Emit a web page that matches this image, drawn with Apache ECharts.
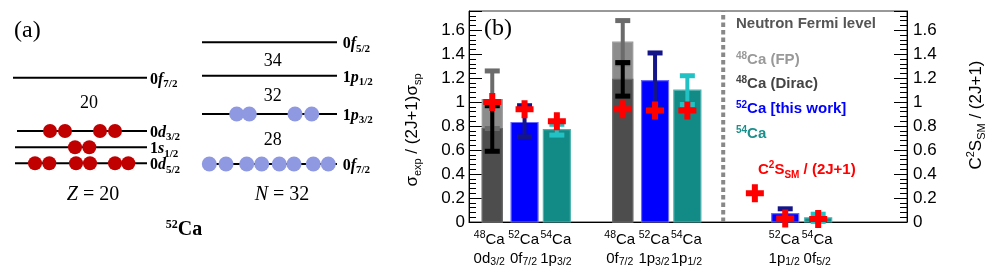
<!DOCTYPE html>
<html><head><meta charset="utf-8">
<script src="https://cdn.jsdelivr.net/npm/echarts@6/dist/echarts.min.js"></script>
<style>html,body{margin:0;padding:0;background:#fff}#c{width:997px;height:273px}</style>
</head><body><div id="c"></div>
<script>
// ================= panel (b) data =================
const barX       = [0.72, 1.72, 2.72, 4.76, 5.76, 6.76, 9.79, 10.81];
const barNucleus = ['48', '52', '54', '48', '52', '54', '52', '54'];
const barOrbital = ['0d', '0f', '1p', '0f', '1p', '1p', '1p', '0f'];
const barJ       = ['3/2', '7/2', '3/2', '7/2', '3/2', '1/2', '1/2', '5/2'];

const fpX = [0.72, 4.76];            // 48Ca (FP)
const fpVal = [1.02, 1.50];
const fpErr = [0.24, 0.18];
const diracX = [0.72, 4.76];         // 48Ca (Dirac)
const diracVal = [0.78, 1.19];
const diracErr = [0.19, 0.14];
const ca52X = [1.72, 5.76, 9.79];    // 52Ca [this work]
const ca52Val = [0.83, 1.18, 0.07];
const ca52ErrUp = [0.14, 0.23, 0.04];
const ca52ErrDn = [0.12, 0.23, 0.04];
const ca54X = [2.72, 6.76, 10.81];   // 54Ca
const ca54Val = [0.77, 1.10, 0.035];
const ca54Err = [0.045, 0.12, 0.03];
const smX = [0.72, 1.72, 2.72, 4.76, 5.76, 6.76, 8.85, 9.79, 10.81];   // C2S_SM/(2J+1)
const smVal = [1.00, 0.94, 0.84, 0.94, 0.93, 0.93, 0.24, 0.03, 0.025];
const fermiX = 7.87;
const xMax = 13.56, yMax = 1.76;
const yTickStep = 0.2;

// ================= panel (a) data (diagram units) =================
const pLevelE = [77.7, 131, 147.3, 163.3];
const pLevelName = [['0','f','7/2'], ['0','d','3/2'], ['1','s','1/2'], ['0','d','5/2']];
const pLevelStart = [13, 17, 15, 15];
const pLevelEnd = 147;
const pOcc = [[], [50, 65, 100, 115], [75, 89.3], [35, 49.3, 76, 90, 115, 128.3]];
const nLevelE = [42.3, 75.7, 114, 164];
const nLevelName = [['0','f','5/2'], ['1','p','1/2'], ['1','p','3/2'], ['0','f','7/2']];
const nLevelStart = 202, nLevelEnd = 337;
const nOcc = [[], [], [236.7, 249.3, 295, 311.7], [209.3, 226, 246.7, 261.7, 279.3, 294, 313.3, 328.3]];
const gapText = ['20', '34', '32', '28'];
const gapPos = [[89, 103], [272.7, 61.7], [272.7, 96.7], [272.7, 140]];

// ================= helpers =================
const SANS = 'Liberation Sans', SERIF = 'Liberation Serif';
const narrowW = 0.62, wideW = 0.836;

function barSeries(xs, vals, w, fill, stroke, z) {
  return {
    type: 'custom', xAxisIndex: 0, yAxisIndex: 0, z: z, silent: true,
    data: xs.map((x, i) => [x, vals[i]]),
    renderItem(params, api) {
      const x = api.value(0), v = api.value(1);
      const a = api.coord([x - w / 2, 0]), b = api.coord([x + w / 2, v]);
      return { type: 'rect', shape: { x: a[0], y: b[1], width: b[0] - a[0], height: a[1] - b[1] },
               style: { fill: fill, stroke: stroke, lineWidth: 1.2 } };
    }
  };
}
function errSeries(xs, vals, up, dn, color, lw, z) {
  return {
    type: 'custom', xAxisIndex: 0, yAxisIndex: 0, z: z, silent: true,
    data: xs.map((x, i) => [x, vals[i], up[i], dn[i]]),
    renderItem(params, api) {
      const x = api.value(0), v = api.value(1), u = api.value(2), d = api.value(3);
      const t = api.coord([x, v + u]), b = api.coord([x, v - d]);
      const cw = 15, ch = 5;
      return { type: 'group', children: [
        { type: 'rect', shape: { x: t[0] - lw / 2, y: t[1], width: lw, height: b[1] - t[1] }, style: { fill: color } },
        { type: 'rect', shape: { x: t[0] - cw / 2, y: t[1] - ch / 2, width: cw, height: ch }, style: { fill: color } },
        { type: 'rect', shape: { x: b[0] - cw / 2, y: b[1] - ch / 2, width: cw, height: ch }, style: { fill: color } }
      ] };
    }
  };
}
const supS = { fontSize: 10.5, fontFamily: SANS, verticalAlign: 'top', lineHeight: 10, fill: '#000' };
const subS = { fontSize: 10.5, fontFamily: SANS, verticalAlign: 'bottom', lineHeight: 10, fill: '#000' };
const baseS = { fontSize: 15, fontFamily: SANS, lineHeight: 19, fill: '#000' };

const xLabelSeries = {
  type: 'custom', xAxisIndex: 0, yAxisIndex: 0, z: 5, silent: true, clip: false,
  data: barX.map(x => [x, 0]),
  renderItem(params, api) {
    const i = params.dataIndex;
    const p = api.coord([api.value(0), 0]);
    return { type: 'text', x: p[0] + (barNucleus[i] === '48' ? -3 : -1), y: p[1] + 8,
      style: { text: '{sup|' + barNucleus[i] + '}{m|Ca}\n{m|' + barOrbital[i] + '}{sub|' + barJ[i] + '}',
               align: 'center', verticalAlign: 'top', fontSize: 15, fontFamily: SANS, lineHeight: 19, fill: '#000',
               rich: { sup: supS, sub: subS, m: baseS } } };
  }
};

// panel (a) helpers
const lvlBase = { fontSize: 16, fontFamily: SERIF, fontWeight: 'bold', lineHeight: 20, fill: '#000' };
const lvlRich = {
  m: lvlBase,
  it: { fontSize: 16, fontFamily: SERIF, fontWeight: 'bold', fontStyle: 'italic', lineHeight: 20, fill: '#000' },
  sub: { fontSize: 11, fontFamily: SERIF, fontWeight: 'bold', verticalAlign: 'bottom', lineHeight: 9, fill: '#000' }
};
function levelSeries(energies, names, starts, end, labelX) {
  return {
    type: 'custom', xAxisIndex: 1, yAxisIndex: 2, z: 2, silent: true, clip: false,
    data: energies.map((e, i) => [Array.isArray(starts) ? starts[i] : starts, end, e]),
    renderItem(params, api) {
      const i = params.dataIndex;
      const a = api.coord([api.value(0), api.value(2)]), b = api.coord([api.value(1), api.value(2)]);
      const lx = api.coord([labelX, api.value(2)]);
      const n = names[i];
      return { type: 'group', children: [
        { type: 'line', shape: { x1: a[0], y1: a[1], x2: b[0], y2: b[1] }, style: { stroke: '#000', lineWidth: 2 } },
        { type: 'text', x: lx[0], y: lx[1] + 2, style: { text: '{m|' + n[0] + '}{it|' + n[1] + '}{sub|' + n[2] + '}',
          align: 'left', verticalAlign: 'middle', rich: lvlRich, fontSize: 16, fontFamily: SERIF } }
      ] };
    }
  };
}
function dotData(energies, occ) {
  const out = [];
  occ.forEach((xs, i) => xs.forEach(x => out.push([x, energies[i]])));
  return out;
}
const gapSeries = {
  type: 'custom', xAxisIndex: 1, yAxisIndex: 2, z: 3, silent: true, clip: false,
  data: gapPos.map(p => p.slice()),
  renderItem(params, api) {
    const p = api.coord([api.value(0), api.value(1)]);
    return { type: 'text', x: p[0], y: p[1], style: { text: gapText[params.dataIndex], align: 'center', verticalAlign: 'middle',
      fontSize: 18, fontFamily: SERIF, fill: '#000' } };
  }
};

const crossPath = 'path://M2,0H4V2H6V4H4V6H2V4H0V2H2Z';

const option = {
  animation: false,
  backgroundColor: '#fff',
  grid: [
    { left: 469, right: 90, top: 11, bottom: 51, show: true, borderColor: '#333', borderWidth: 1, backgroundColor: 'transparent' },
    { left: 0, top: 0, width: 400, height: 273, show: false }
  ],
  xAxis: [
    { type: 'value', gridIndex: 0, min: 0, max: xMax, axisLine: { show: true, onZero: false, lineStyle: { color: '#000', width: 1 } },
      axisTick: { show: false }, axisLabel: { show: false }, splitLine: { show: false } },
    { type: 'value', gridIndex: 1, min: 0, max: 400, show: false, splitLine: { show: false } }
  ],
  yAxis: [
    { type: 'value', gridIndex: 0, position: 'left', min: 0, max: yMax, interval: yTickStep,
      axisLine: { show: true, lineStyle: { color: '#000', width: 1 } },
      axisTick: { show: true, inside: true, length: 13, lineStyle: { color: '#000' } },
      minorTick: { show: true, splitNumber: 5, length: 7, lineStyle: { color: '#000' } },
      axisLabel: { show: true, margin: 4, fontSize: 17, fontFamily: SANS, color: '#000', showMaxLabel: false },
      splitLine: { show: false } },
    { type: 'value', gridIndex: 0, position: 'right', min: 0, max: yMax, interval: yTickStep,
      axisLine: { show: true, lineStyle: { color: '#000', width: 1 } },
      axisTick: { show: true, inside: true, length: 13, lineStyle: { color: '#000' } },
      minorTick: { show: true, splitNumber: 5, length: 7, lineStyle: { color: '#000' } },
      axisLabel: { show: true, margin: 6, fontSize: 17, fontFamily: SANS, color: '#000', showMaxLabel: false },
      splitLine: { show: false } },
    { type: 'value', gridIndex: 1, min: 0, max: 273, inverse: true, show: false, splitLine: { show: false } }
  ],
  series: [
    { type: 'line', xAxisIndex: 0, yAxisIndex: 0, z: 1, silent: true, symbol: 'none',
      data: [[fermiX, 0], [fermiX, yMax]], lineStyle: { color: '#888', width: 4, type: [4.5, 3] } },
    barSeries(fpX, fpVal, narrowW, '#8c8c8c', '#9a9a9a', 2),
    barSeries(diracX, diracVal, narrowW, '#4d4d4d', '#666', 3),
    barSeries(ca52X, ca52Val, wideW, '#0000ff', '#6a6aff', 2),
    barSeries(ca54X, ca54Val, wideW, '#128a86', '#4fb3b0', 2),
    errSeries(fpX, fpVal, fpErr, fpErr, '#6b6b6b', 4, 4),
    errSeries(diracX, diracVal, diracErr, diracErr, '#000', 4, 5),
    errSeries(ca52X, ca52Val, ca52ErrUp, ca52ErrDn, '#15158a', 4, 4),
    errSeries(ca54X, ca54Val, ca54Err, ca54Err, '#22c2c4', 4, 4),
    { type: 'scatter', xAxisIndex: 0, yAxisIndex: 0, z: 8, silent: true, symbol: crossPath, symbolSize: 18,
      data: smX.map((x, i) => [x, smVal[i]]), itemStyle: { color: '#ff0000', opacity: 1 } },
    xLabelSeries,
    // panel (a)
    levelSeries(pLevelE, pLevelName, pLevelStart, pLevelEnd, 150),
    levelSeries(nLevelE, nLevelName, nLevelStart, nLevelEnd, 342.7),
    { type: 'scatter', xAxisIndex: 1, yAxisIndex: 2, z: 4, silent: true, symbolSize: 14,
      data: dotData(pLevelE, pOcc), itemStyle: { color: '#c00000', opacity: 1 } },
    { type: 'scatter', xAxisIndex: 1, yAxisIndex: 2, z: 4, silent: true, symbolSize: 15,
      data: dotData(nLevelE, nOcc), itemStyle: { color: '#8f99e2', opacity: 1 } },
    gapSeries
  ],
  graphic: [
    { type: 'text', x: 14, y: 31, style: { text: '(a)', font: '24px "Liberation Serif"', fill: '#000', verticalAlign: 'middle' } },
    { type: 'text', x: 484, y: 29, z: 20, style: { text: '(b)', font: '24px "Liberation Serif"', fill: '#000', verticalAlign: 'middle' } },
    { type: 'text', x: 93, y: 195, style: { text: '{i|Z} = 20', align: 'center', verticalAlign: 'middle', font: '20px "Liberation Serif"', fill: '#000',
      rich: { i: { fontSize: 20, fontFamily: SERIF, fontStyle: 'italic', fill: '#000' } } } },
    { type: 'text', x: 282, y: 195, style: { text: '{i|N} = 32', align: 'center', verticalAlign: 'middle', font: '20px "Liberation Serif"', fill: '#000',
      rich: { i: { fontSize: 20, fontFamily: SERIF, fontStyle: 'italic', fill: '#000' } } } },
    { type: 'text', x: 184, y: 230, style: { text: '{s|52}{m|Ca}', align: 'center', verticalAlign: 'middle',
      rich: { s: { fontSize: 12, fontFamily: SERIF, fontWeight: 'bold', verticalAlign: 'top', lineHeight: 12, fill: '#000' },
              m: { fontSize: 20, fontFamily: SERIF, fontWeight: 'bold', lineHeight: 22, fill: '#000' } } } },
    // legend texts
    { type: 'text', x: 736, y: 24, z: 20, style: { text: 'Neutron Fermi level', font: 'bold 15px "Liberation Sans"', fill: '#555', verticalAlign: 'middle' } },
    { type: 'text', x: 736, y: 60, z: 20, style: { text: '{s|48}{m|Ca (FP)}', verticalAlign: 'middle',
      rich: { s: { fontSize: 10, fontFamily: SANS, fontWeight: 'bold', verticalAlign: 'top', lineHeight: 10, fill: '#999' },
              m: { fontSize: 15, fontFamily: SANS, fontWeight: 'bold', lineHeight: 18, fill: '#999' } } } },
    { type: 'text', x: 736, y: 84, z: 20, style: { text: '{s|48}{m|Ca (Dirac)}', verticalAlign: 'middle',
      rich: { s: { fontSize: 10, fontFamily: SANS, fontWeight: 'bold', verticalAlign: 'top', lineHeight: 10, fill: '#444' },
              m: { fontSize: 15, fontFamily: SANS, fontWeight: 'bold', lineHeight: 18, fill: '#444' } } } },
    { type: 'text', x: 736, y: 109, z: 20, style: { text: '{s|52}{m|Ca [this work]}', verticalAlign: 'middle',
      rich: { s: { fontSize: 10, fontFamily: SANS, fontWeight: 'bold', verticalAlign: 'top', lineHeight: 10, fill: '#0000ff' },
              m: { fontSize: 15, fontFamily: SANS, fontWeight: 'bold', lineHeight: 18, fill: '#0000ff' } } } },
    { type: 'text', x: 736, y: 134, z: 20, style: { text: '{s|54}{m|Ca}', verticalAlign: 'middle',
      rich: { s: { fontSize: 10, fontFamily: SANS, fontWeight: 'bold', verticalAlign: 'top', lineHeight: 10, fill: '#1a8f8c' },
              m: { fontSize: 15, fontFamily: SANS, fontWeight: 'bold', lineHeight: 18, fill: '#1a8f8c' } } } },
    { type: 'text', x: 758, y: 170, z: 20, style: { text: '{m|C}{s|2}{m|S}{b|SM}{m| / (2J+1)}', verticalAlign: 'middle',
      rich: { s: { fontSize: 10, fontFamily: SANS, fontWeight: 'bold', verticalAlign: 'top', lineHeight: 10, fill: '#ff0000' },
              b: { fontSize: 10, fontFamily: SANS, fontWeight: 'bold', verticalAlign: 'bottom', lineHeight: 10, fill: '#ff0000' },
              m: { fontSize: 15, fontFamily: SANS, fontWeight: 'bold', lineHeight: 20, fill: '#ff0000' } } } },
    // axis titles
    { type: 'text', x: 412, y: 130, rotation: Math.PI / 2, style: { text: '{m|σ}{b|exp}{m| / (2J+1)σ}{b|sp}', align: 'center', verticalAlign: 'middle',
      rich: { b: { fontSize: 11, fontFamily: SANS, verticalAlign: 'bottom', lineHeight: 10, fill: '#000' },
              m: { fontSize: 17, fontFamily: SANS, lineHeight: 22, fill: '#000' } } } },
    { type: 'text', x: 976, y: 115, rotation: Math.PI / 2, style: { text: '{m|C}{s|2}{m|S}{b|SM}{m| / (2J+1)}', align: 'center', verticalAlign: 'middle',
      rich: { s: { fontSize: 11, fontFamily: SANS, verticalAlign: 'top', lineHeight: 10, fill: '#000' },
              b: { fontSize: 11, fontFamily: SANS, verticalAlign: 'bottom', lineHeight: 10, fill: '#000' },
              m: { fontSize: 17, fontFamily: SANS, lineHeight: 22, fill: '#000' } } } }
  ]
};
const chart = echarts.init(document.getElementById('c'), null, { renderer: 'canvas' });
chart.setOption(option);
</script></body></html>
